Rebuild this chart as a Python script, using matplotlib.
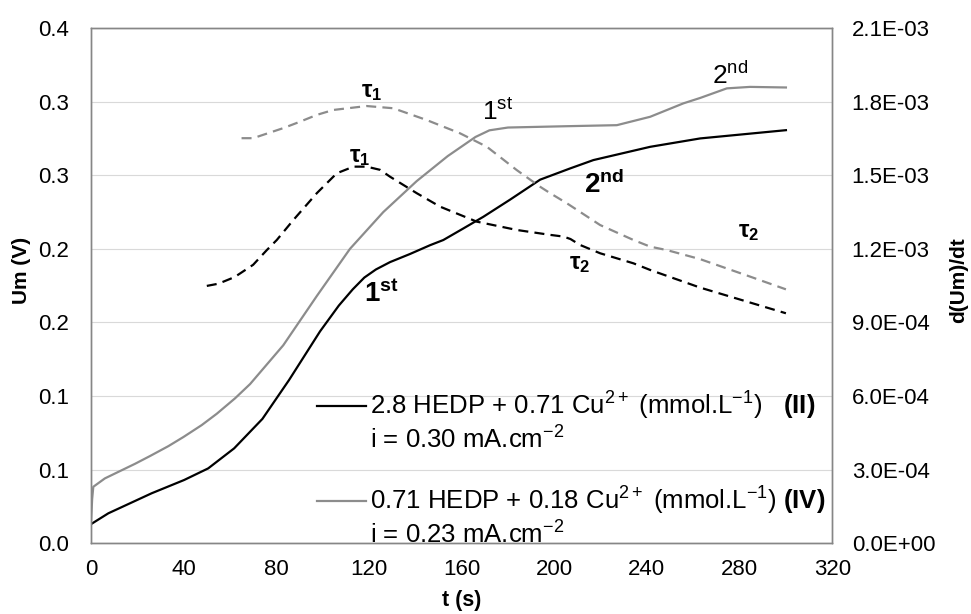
import matplotlib.pyplot as plt
from matplotlib.lines import Line2D

plt.rcParams['font.family'] = ['Liberation Sans', 'DejaVu Sans']
plt.rcParams['mathtext.fontset'] = 'custom'
plt.rcParams['mathtext.rm'] = 'Liberation Sans'
plt.rcParams['mathtext.bf'] = 'Liberation Sans:bold'
plt.rcParams['mathtext.it'] = 'Liberation Sans:italic'
plt.rcParams['mathtext.default'] = 'regular'

# --- data ---
# Um vs t, solution II (black) and IV (grey), left axis
t_II = [0, 1, 7.5, 26.2, 40.2, 50.6, 61.8, 74, 85.5, 98.9, 107, 113, 118, 123,
        129.1, 137.7, 146.4, 152.1, 160.8, 169.4, 180.9, 193.9, 206.8, 216.9,
        241.4, 263, 300]
U_II = [0.013, 0.014, 0.0204, 0.034, 0.0430, 0.0509, 0.0645, 0.0845, 0.1109,
        0.1440, 0.1615, 0.1725, 0.1805, 0.1860, 0.1910, 0.1965, 0.2025, 0.2060,
        0.2139, 0.2218, 0.2334, 0.2470, 0.2546, 0.2603, 0.2693, 0.2750, 0.2806]

t_IV = [0, 0.5, 1, 6, 19, 25.5, 33.4, 39.9, 47.8, 54.3, 62.2, 68.7, 83, 97.5,
        111.8, 126.2, 140.6, 154, 166, 172, 180, 205.4, 227, 241.4, 255.7, 263,
        274.5, 284.5, 300]
U_IV = [0.014, 0.03, 0.0384, 0.0441, 0.0540, 0.0593, 0.0660, 0.0722, 0.0803,
        0.0880, 0.0985, 0.1082, 0.1345, 0.1680, 0.2000, 0.2250, 0.2460, 0.2630,
        0.2760, 0.2805, 0.2824, 0.2833, 0.2840, 0.2897, 0.2988, 0.3025, 0.3090,
        0.3100, 0.3096]

# d(Um)/dt, right axis
td_II = [50, 55, 62, 70, 75.9, 80.2, 87.4, 97.5, 106.1, 113.3, 119, 124.8, 129.1,
         140.6, 150.7, 166.5, 183.8, 198.2, 204, 207, 211.1, 219.8, 234.2, 241.4,
         263, 300]
d_II = [1.049e-3, 1.058e-3, 1.085e-3, 1.135e-3, 1.195e-3, 1.236e-3, 1.318e-3,
        1.427e-3, 1.508e-3, 1.535e-3, 1.535e-3, 1.522e-3, 1.494e-3, 1.427e-3,
        1.372e-3, 1.311e-3, 1.277e-3, 1.257e-3, 1.250e-3, 1.240e-3, 1.216e-3,
        1.182e-3, 1.141e-3, 1.114e-3, 1.042e-3, 0.9375e-3]

td_IV = [65, 70, 83, 90.2, 97.5, 104.6, 119, 130.5, 144.9, 159.3, 170.9, 183.8,
         193.9, 198.2, 205.4, 219.8, 234.2, 241.4, 248.6, 263, 284.5, 300]
d_IV = [1.651e-3, 1.651e-3, 1.692e-3, 1.718e-3, 1.746e-3, 1.766e-3, 1.782e-3,
        1.773e-3, 1.725e-3, 1.671e-3, 1.616e-3, 1.521e-3, 1.453e-3, 1.427e-3,
        1.386e-3, 1.297e-3, 1.236e-3, 1.209e-3, 1.195e-3, 1.158e-3, 1.087e-3,
        1.035e-3]

x_ticks = [0, 40, 80, 120, 160, 200, 240, 280, 320]
u_ticks = [0, 0.05, 0.1, 0.15, 0.2, 0.25, 0.3, 0.35]
u_tick_labels = ['0.0', '0.1', '0.1', '0.2', '0.2', '0.3', '0.3', '0.4']
d_ticks = [0, 3e-4, 6e-4, 9e-4, 1.2e-3, 1.5e-3, 1.8e-3, 2.1e-3]

label_II = '2.8 HEDP + 0.71 Cu$^{2+}$ (mmol.L$^{-1}$)   $\\mathbf{(II)}$'
label_IV = '0.71 HEDP + 0.18 Cu$^{2+}$ (mmol.L$^{-1}$) $\\mathbf{(IV)}$'
current_II = 'i = 0.30 mA.cm$^{-2}$'
current_IV = 'i = 0.23 mA.cm$^{-2}$'

# annotations: (t, Um, text, size, weight)
notes = [
    (121.3, 0.3066, 'τ$_1$', 17, 'bold'),
    (116.1, 0.2625, 'τ$_1$', 17, 'bold'),
    (211.1, 0.1902, 'τ$_2$', 17, 'bold'),
    (283.8, 0.2117, 'τ$_2$', 17, 'bold'),
    (175.7, 0.2930, '1$^{st}$', 19, 'normal'),
    (276.0, 0.3179, '2$^{nd}$', 19, 'normal'),
    (125.4, 0.1694, '1$^{st}$', 20, 'bold'),
    (221.5, 0.2434, '2$^{nd}$', 20, 'bold'),
]

GREY = '#8c8c8c'
SPINE = '#868686'

fig = plt.figure(figsize=(9.71, 6.14), dpi=100)
ax = fig.add_axes([0.0937, 0.1151, 0.7634, 0.8393])
ax2 = ax.twinx()

l_II, = ax.plot(t_II, U_II, color='black', lw=1.6)
l_IV, = ax.plot(t_IV, U_IV, color=GREY, lw=1.6)
ax2.plot(td_II, d_II, color='black', lw=1.6, dashes=(4.5, 2.8))
ax2.plot(td_IV, d_IV, color=GREY, lw=1.6, dashes=(4.5, 2.8))

ax.set_xlim(0, 320)
ax.set_ylim(0, 0.35)
ax2.set_ylim(0, 2.1e-3)
ax.set_xticks(x_ticks)
ax.set_yticks(u_ticks)
ax.set_yticklabels(u_tick_labels)
ax2.set_yticks(d_ticks)
ax2.set_yticklabels(['%.1E' % v for v in d_ticks])

ax.grid(axis='y', color='#d9d9d9', lw=0.8)
ax.set_axisbelow(True)
for a in (ax, ax2):
    for s in a.spines.values():
        s.set_color(SPINE)
        s.set_linewidth(1.0)
    a.tick_params(length=0)
ax.tick_params(axis='x', pad=11, labelsize=16)
ax.tick_params(axis='y', pad=15.5, labelsize=16)
ax2.tick_params(axis='y', pad=14, labelsize=16)

ax.set_xlabel('t (s)', fontsize=15.5, fontweight='bold')
ax.set_ylabel('Um (V)', fontsize=15, fontweight='bold')
ax2.set_ylabel('d(Um)/dt', fontsize=15, fontweight='bold')
ax.xaxis.set_label_coords(0.5, -0.0906)
ax.yaxis.set_label_coords(-0.081, 0.53)
ax2.yaxis.set_label_coords(1.158, 0.511)

for t, u, s, fs, fw in notes:
    ax.text(t, u, s, color='black', fontsize=fs, fontweight=fw,
            ha='center', va='center')

blank = Line2D([], [], color='none')
ax.legend([l_II, blank, blank, l_IV, blank],
          [label_II, current_II, ' ', label_IV, current_IV],
          loc='upper left', bbox_to_anchor=(0.305, 0.297), frameon=False,
          fontsize=18.5, handlelength=1.9, handletextpad=0.15,
          labelspacing=0.15, borderpad=0, borderaxespad=0)

fig.savefig('out.png', dpi=100)
